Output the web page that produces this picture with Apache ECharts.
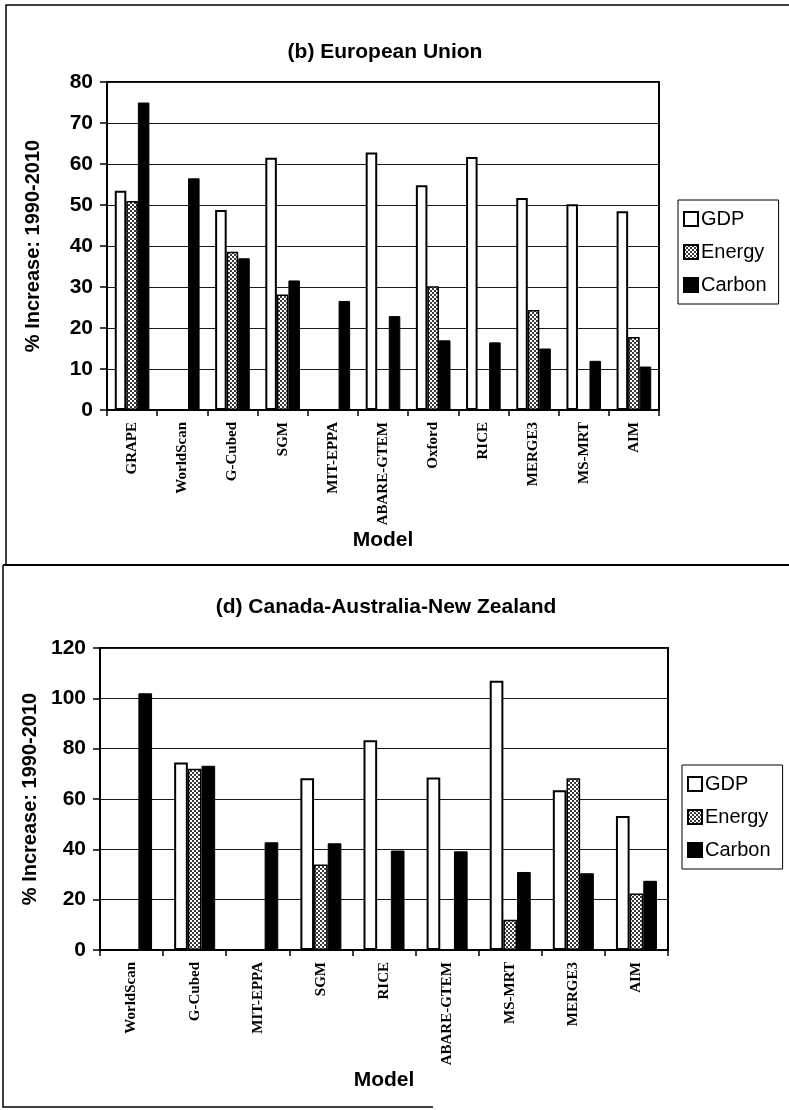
<!DOCTYPE html>
<html>
<head>
<meta charset="utf-8">
<script src="https://cdn.jsdelivr.net/npm/echarts@6/dist/echarts.min.js"></script>
<style>
  html, body { margin: 0; padding: 0; background: #fff; }
  #main { width: 789px; height: 1110px; }
</style>
</head>
<body>
<div id="main"></div>
<script>
// (b) European Union — % increase 1990-2010 by model
const categoriesEU = ['GRAPE', 'WorldScan', 'G-Cubed', 'SGM', 'MIT-EPPA', 'ABARE-GTEM', 'Oxford', 'RICE', 'MERGE3', 'MS-MRT', 'AIM'];
const gdpEU    = [53.5, null, 48.8, 61.5, null, 62.8, 54.8, 61.7, 51.7, 50.2, 48.5];
const energyEU = [51.0, null, 38.6, 28.2, null, null, 30.2, null, 24.4, null, 17.8];
const carbonEU = [75.0, 56.5, 37.0, 31.6, 26.6, 22.9, 17.0, 16.5, 15.0, 12.0, 10.6];

// (d) Canada-Australia-New Zealand — % increase 1990-2010 by model
const categoriesCANZ = ['WorldScan', 'G-Cubed', 'MIT-EPPA', 'SGM', 'RICE', 'ABARE-GTEM', 'MS-MRT', 'MERGE3', 'AIM'];
const gdpCANZ    = [null, 74.5, null, 68.2, 83.3, 68.5, 107.0, 63.5, 53.2];
const energyCANZ = [null, 72.0, null, 34.0, null, null, 12.0, 68.2, 22.5];
const carbonCANZ = [102.0, 73.2, 42.8, 42.4, 39.5, 39.2, 31.0, 30.5, 27.5];

const seriesNames = ['GDP', 'Energy', 'Carbon'];

// dotted fill used for the Energy bars
function dotPattern() {
  const c = document.createElement('canvas');
  c.width = 4; c.height = 4;
  const g = c.getContext('2d');
  g.fillStyle = '#ffffff';
  g.fillRect(0, 0, 4, 4);
  g.fillStyle = '#3a3a3a';
  g.fillRect(0, 0, 2, 2);
  g.fillRect(2, 2, 2, 2);
  return c;
}
const dots = { image: dotPattern(), repeat: 'repeat' };

const SANS = '"Liberation Sans", Arial, sans-serif';
const SERIF = '"Liberation Serif", "Times New Roman", serif';

const styles = {
  GDP:    { color: '#ffffff', borderColor: '#000', borderWidth: 2 },
  Energy: { color: dots, borderColor: '#000', borderWidth: 1.5 },
  Carbon: { color: '#000000', borderColor: '#000', borderWidth: 1 }
};

function xAxisFor(gridIndex, cats, nameGap) {
  return {
    type: 'category', gridIndex: gridIndex, data: cats,
    name: 'Model', nameLocation: 'middle', nameGap: nameGap,
    nameTextStyle: { fontFamily: SANS, fontWeight: 'bold', fontSize: 21, color: '#000' },
    axisLine: { lineStyle: { color: '#000', width: 2 } },
    axisTick: { show: true, length: 6, lineStyle: { color: '#000', width: 1.5 } },
    axisLabel: { interval: 0, rotate: 90, margin: 12, fontFamily: SERIF, fontSize: 15,
                 fontWeight: 'bold', color: '#000' },
    splitLine: { show: false }
  };
}

function yAxisFor(gridIndex, max, interval, nameGap) {
  return {
    type: 'value', gridIndex: gridIndex, min: 0, max: max, interval: interval,
    name: '% Increase: 1990-2010', nameLocation: 'middle', nameGap: nameGap,
    nameTextStyle: { fontFamily: SANS, fontWeight: 'bold', fontSize: 20, color: '#000' },
    axisLine: { show: true, lineStyle: { color: '#000', width: 2 } },
    axisTick: { show: true, length: 7, lineStyle: { color: '#000', width: 1.5 } },
    axisLabel: { margin: 14, fontFamily: SANS, fontSize: 21, fontWeight: 'bold', color: '#000' },
    splitLine: { show: true, lineStyle: { color: '#1a1a1a', width: 1 } }
  };
}

function barSeries(name, data, axisIndex, catGap) {
  return {
    name: name, type: 'bar', data: data,
    xAxisIndex: axisIndex, yAxisIndex: axisIndex,
    barGap: '0%', barCategoryGap: catGap,
    itemStyle: styles[name],
    emphasis: { disabled: true },
    animation: false
  };
}

function legendAt(left, top) {
  return {
    orient: 'vertical', left: left, top: top,
    data: seriesNames, selectedMode: false,
    itemWidth: 14, itemHeight: 14, itemGap: 13,
    padding: [9, 12, 9, 5],
    borderColor: '#000', borderWidth: 1, backgroundColor: '#fff',
    icon: 'rect',
    textStyle: { fontFamily: SANS, fontSize: 20, color: '#000', padding: [0, 0, 0, -2] }
  };
}

const chart = echarts.init(document.getElementById('main'), null, { renderer: 'canvas', width: 789, height: 1110 });

chart.setOption({
  backgroundColor: '#ffffff',
  animation: false,
  title: [
    { text: '(b) European Union', left: 385, top: 42, textAlign: 'center', padding: 0,
      textStyle: { fontFamily: SANS, fontWeight: 'bold', fontSize: 21, color: '#000' } },
    { text: '(d) Canada-Australia-New Zealand', left: 386, top: 597, textAlign: 'center', padding: 0,
      textStyle: { fontFamily: SANS, fontWeight: 'bold', fontSize: 21, color: '#000' } }
  ],
  legend: [legendAt(678, 200), legendAt(682, 765)],
  grid: [
    { left: 107, top: 82, width: 552, height: 328, show: true, borderColor: '#000', borderWidth: 2, backgroundColor: 'transparent' },
    { left: 100, top: 648, width: 568, height: 302, show: true, borderColor: '#000', borderWidth: 2, backgroundColor: 'transparent' }
  ],
  xAxis: [xAxisFor(0, categoriesEU, 114), xAxisFor(1, categoriesCANZ, 118)],
  yAxis: [yAxisFor(0, 80, 10, 64), yAxisFor(1, 120, 20, 52)],
  series: [
    barSeries('GDP', gdpEU, 0, '31%'),
    barSeries('Energy', energyEU, 0, '31%'),
    barSeries('Carbon', carbonEU, 0, '31%'),
    barSeries('GDP', gdpCANZ, 1, '35%'),
    barSeries('Energy', energyCANZ, 1, '35%'),
    barSeries('Carbon', carbonCANZ, 1, '35%')
  ],
  // panel frames around the two figures
  graphic: [
    { type: 'polyline', silent: true, shape: { points: [[6, 565], [6, 5], [789, 5]] },
      style: { stroke: '#000', lineWidth: 1.5, fill: null } },
    { type: 'line', silent: true, shape: { x1: 3, y1: 565, x2: 789, y2: 565 },
      style: { stroke: '#000', lineWidth: 2 } },
    { type: 'polyline', silent: true, shape: { points: [[3, 565], [3, 1107], [433, 1107]] },
      style: { stroke: '#000', lineWidth: 1.5, fill: null } }
  ]
});
</script>
</body>
</html>
